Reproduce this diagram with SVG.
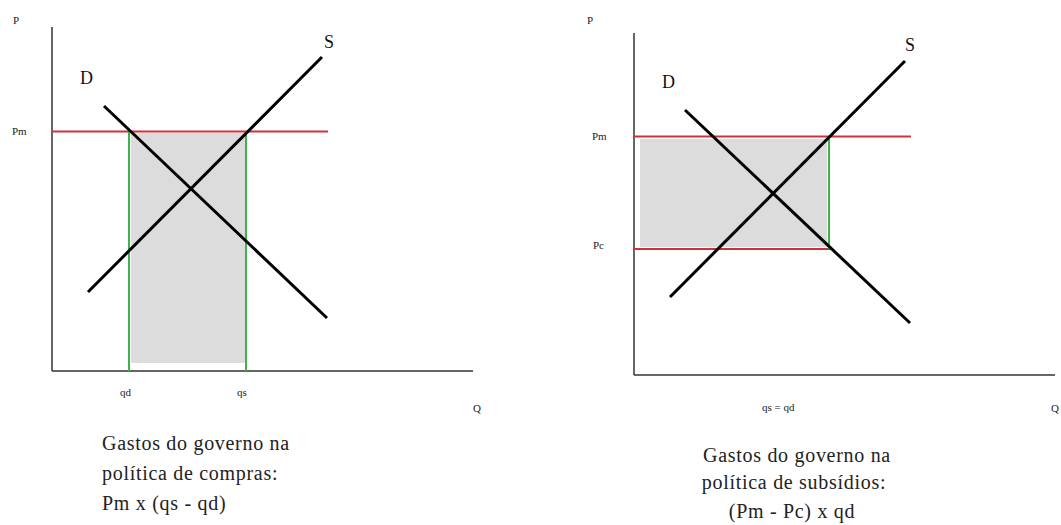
<svg xmlns="http://www.w3.org/2000/svg" width="1061" height="525" viewBox="0 0 1061 525">
<style>
.ax{stroke:#333;stroke-width:1.5;fill:none}
.cv{stroke:#000;stroke-width:3;fill:none;stroke-linecap:butt}
.rd{stroke:#d0303c;stroke-width:2;fill:none}
.gr{stroke:#3cb44a;stroke-width:2;fill:none}
.ar{fill:#dcdcdc;stroke:none}
.sm{font-family:"Liberation Serif",serif;font-size:11px;fill:#222}
.lb{font-family:"Liberation Serif",serif;font-size:18px;fill:#111}
.cap{font-family:"Liberation Serif",serif;font-size:20px;letter-spacing:0.7px;fill:#222}
</style>
<rect width="1061" height="525" fill="#fff"/>
<g id="left-chart">
  <g id="left-area"><rect class="ar" x="131" y="133" width="114" height="230"/></g>
  <g id="left-axes">
    <line class="ax" x1="52" y1="27" x2="52" y2="371"/>
    <line class="ax" x1="52" y1="371" x2="473" y2="371"/>
    <text class="sm" x="13" y="24">P</text>
    <text class="sm" x="473" y="412">Q</text>
  </g>
  <g id="left-connectors">
    <line class="rd" x1="52" y1="131.5" x2="328" y2="131.5"/>
    <line class="gr" x1="129" y1="131.5" x2="129" y2="371"/>
    <line class="gr" x1="246" y1="131.5" x2="246" y2="371"/>
    <line class="cv" x1="104" y1="106" x2="327" y2="318"/>
    <line class="cv" x1="88" y1="292" x2="322" y2="57"/>
  </g>
  <g id="left-labels">
    <text class="lb" x="80" y="84">D</text>
    <text class="lb" x="324" y="48">S</text>
    <text class="sm" x="12" y="135">Pm</text>
    <text class="sm" x="120" y="396">qd</text>
    <text class="sm" x="237" y="396">qs</text>
  </g>
  <g id="left-caption">
    <text class="cap" x="102" y="450">Gastos do governo na</text>
    <text class="cap" x="102" y="480">política de compras:</text>
    <text class="cap" x="102" y="510">Pm x (qs - qd)</text>
  </g>
</g>
<g id="right-chart">
  <g id="right-area"><rect class="ar" x="640" y="139" width="187" height="108"/></g>
  <g id="right-axes">
    <line class="ax" x1="634" y1="33" x2="634" y2="375"/>
    <line class="ax" x1="634" y1="375" x2="1055" y2="375"/>
    <text class="sm" x="587" y="24">P</text>
    <text class="sm" x="1051" y="412">Q</text>
  </g>
  <g id="right-connectors">
    <line class="rd" x1="634" y1="136.5" x2="911" y2="136.5"/>
    <line class="rd" x1="634" y1="249" x2="831" y2="249"/>
    <line class="gr" x1="829" y1="136.5" x2="829" y2="249"/>
    <line class="cv" x1="685" y1="110" x2="910" y2="323"/>
    <line class="cv" x1="670" y1="297" x2="905" y2="61"/>
  </g>
  <g id="right-labels">
    <text class="lb" x="662" y="88">D</text>
    <text class="lb" x="905" y="51">S</text>
    <text class="sm" x="592" y="140">Pm</text>
    <text class="sm" x="593" y="249">Pc</text>
    <text class="sm" x="762" y="411">qs = qd</text>
  </g>
  <g id="right-caption">
    <text class="cap" x="797" y="462" text-anchor="middle">Gastos do governo na</text>
    <text class="cap" x="794" y="489" text-anchor="middle">política de subsídios:</text>
    <text class="cap" x="792" y="518" text-anchor="middle">(Pm - Pc) x qd</text>
  </g>
</g>
</svg>
